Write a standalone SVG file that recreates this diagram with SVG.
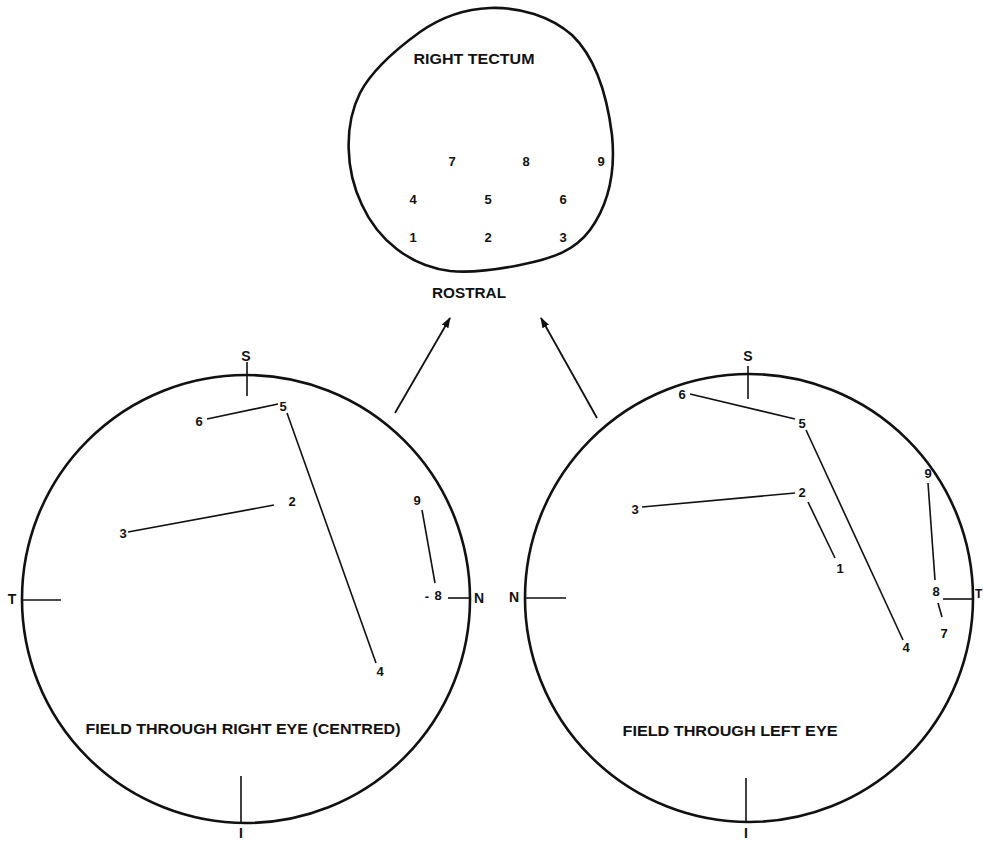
<svg xmlns="http://www.w3.org/2000/svg" width="983" height="842" viewBox="0 0 983 842">
<style>
text{font-family:"Liberation Sans",Arial,sans-serif;font-weight:bold;fill:#111;text-anchor:middle;dominant-baseline:central}
.n{font-size:13px}
.lbl{font-size:14px}
.cap{font-size:14px}
.outline{fill:none;stroke:#111;stroke-width:2.6}
.ln{fill:none;stroke:#111;stroke-width:1.6}
.ar{fill:none;stroke:#111;stroke-width:1.8}
</style>
<defs>
<marker id="ah" viewBox="0 0 10 10" refX="9" refY="5" markerWidth="6" markerHeight="6" markerUnits="strokeWidth" orient="auto">
<path d="M0,1.5 L10,5 L0,8.5 Z" fill="#111"/>
</marker>
</defs>
<rect width="983" height="842" fill="#fff"/>

<g id="tectum">
<path class="outline" d="M490,8 C520,7 550,16 572,35 C595,57 607,95 612,135 C616,175 608,205 590,230 C575,250 555,258 520,265 C495,270 470,273 450,271 C410,266 378,240 362,205 C345,170 344,125 360,93 C372,70 395,50 420,32 C440,18 462,9 490,8 Z"/>
<text class="cap" x="474" y="59" textLength="121" lengthAdjust="spacingAndGlyphs">RIGHT  TECTUM</text>
<text class="n" x="452" y="161">7</text>
<text class="n" x="526" y="161">8</text>
<text class="n" x="601" y="161">9</text>
<text class="n" x="413" y="199">4</text>
<text class="n" x="488" y="199">5</text>
<text class="n" x="563" y="199">6</text>
<text class="n" x="413" y="237">1</text>
<text class="n" x="488" y="237">2</text>
<text class="n" x="563" y="237">3</text>
<text class="cap" x="469" y="293" textLength="74" lengthAdjust="spacingAndGlyphs">ROSTRAL</text>
</g>

<g id="right-eye-field">
<circle class="outline" cx="246" cy="599" r="224"/>
<line class="ln" x1="247" y1="362" x2="247" y2="396"/>
<line class="ln" x1="23" y1="600" x2="61" y2="600"/>
<line class="ln" x1="448" y1="598" x2="470" y2="598"/>
<line class="ln" x1="241" y1="776" x2="241" y2="823"/>
<text class="lbl" x="246" y="356">S</text>
<text class="lbl" x="12" y="599">T</text>
<text class="lbl" x="479" y="598">N</text>
<text class="lbl" x="241" y="833">I</text>
<line class="ln" x1="207" y1="419" x2="278" y2="404"/>
<line class="ln" x1="287" y1="413" x2="376" y2="663"/>
<line class="ln" x1="274" y1="505" x2="128" y2="532"/>
<line class="ln" x1="422" y1="510" x2="435" y2="583"/>
<text class="n" x="199" y="421">6</text>
<text class="n" x="283" y="406">5</text>
<text class="n" x="380" y="671">4</text>
<text class="n" x="292" y="501">2</text>
<text class="n" x="123" y="533">3</text>
<text class="n" x="417" y="500">9</text>
<text class="n" x="427" y="596">-</text>
<text class="n" x="438" y="595">8</text>
<text class="cap" x="243" y="729" textLength="315" lengthAdjust="spacingAndGlyphs">FIELD THROUGH  RIGHT  EYE  (CENTRED)</text>
</g>

<g id="left-eye-field">
<circle class="outline" cx="749" cy="598" r="224"/>
<line class="ln" x1="748" y1="366" x2="748" y2="399"/>
<line class="ln" x1="525" y1="598" x2="566" y2="598"/>
<line class="ln" x1="943" y1="599" x2="973" y2="599"/>
<line class="ln" x1="746" y1="778" x2="746" y2="822"/>
<text class="lbl" x="748" y="356">S</text>
<text class="lbl" x="514" y="597">N</text>
<text class="lbl" x="975" y="594" style="text-anchor:start;font-size:12px">T</text>
<text class="lbl" x="746" y="833">I</text>
<line class="ln" x1="690" y1="394" x2="795" y2="419"/>
<line class="ln" x1="806" y1="430" x2="903" y2="640"/>
<line class="ln" x1="795" y1="493" x2="642" y2="507"/>
<line class="ln" x1="808" y1="502" x2="835" y2="558"/>
<line class="ln" x1="928" y1="483" x2="935" y2="580"/>
<line class="ln" x1="938" y1="603" x2="942" y2="617"/>
<text class="n" x="682" y="394">6</text>
<text class="n" x="802" y="423">5</text>
<text class="n" x="906" y="647">4</text>
<text class="n" x="802" y="492">2</text>
<text class="n" x="635" y="509">3</text>
<text class="n" x="840" y="568">1</text>
<text class="n" x="928" y="473">9</text>
<text class="n" x="936" y="591">8</text>
<text class="n" x="944" y="633">7</text>
<text class="cap" x="730" y="731" textLength="215" lengthAdjust="spacingAndGlyphs">FIELD THROUGH  LEFT  EYE</text>
</g>

<g id="connectors">
<line class="ar" x1="395" y1="413" x2="450" y2="318" marker-end="url(#ah)"/>
<line class="ar" x1="597" y1="418" x2="541" y2="318" marker-end="url(#ah)"/>
</g>
</svg>
